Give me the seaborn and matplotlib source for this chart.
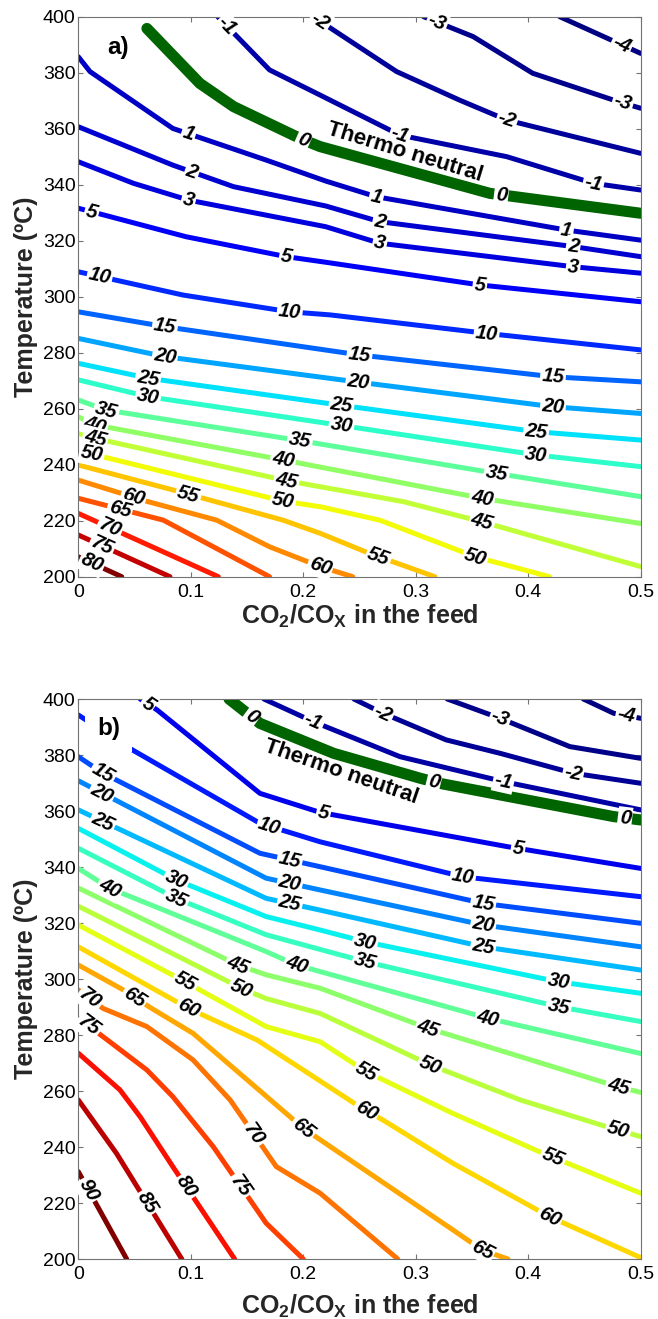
import numpy as np
import pandas as pd
import matplotlib
matplotlib.use("Agg")
import matplotlib.pyplot as plt
import seaborn as sns

# ---------------- data ----------------
X_TICKS = [0, 0.1, 0.2, 0.3, 0.4, 0.5]
X_TICK_LABELS = ["0", "0.1", "0.2", "0.3", "0.4", "0.5"]
Y_TICKS = [200, 220, 240, 260, 280, 300, 320, 340, 360, 380, 400]

# panel a) contour lines: level -> CO2/COx values and temperatures
A_X = {
    -4: [0.428, 0.5],
    -3: [0.307, 0.351, 0.404, 0.476, 0.5],
    -2: [0.209, 0.227, 0.283, 0.339, 0.381, 0.5],
    -1: [0.124, 0.17, 0.215, 0.286, 0.381, 0.458, 0.5],
    0: [0.061, 0.108, 0.138, 0.2, 0.215, 0.366, 0.5],
    1: [0.0, 0.0104, 0.084, 0.167, 0.22, 0.265, 0.434, 0.5],
    2: [0.0, 0.084, 0.138, 0.22, 0.268, 0.44, 0.5],
    3: [0.0, 0.049, 0.098, 0.22, 0.268, 0.44, 0.5],
    5: [0.0, 0.096, 0.185, 0.22, 0.357, 0.5],
    10: [0.0, 0.093, 0.188, 0.224, 0.363, 0.5],
    15: [0.0, 0.077, 0.25, 0.422, 0.5],
    20: [0.0, 0.077, 0.249, 0.422, 0.5],
    25: [0.0, 0.062, 0.234, 0.407, 0.5],
    30: [0.0, 0.062, 0.234, 0.407, 0.5],
    35: [0.0, 0.025, 0.197, 0.372, 0.5],
    40: [0.0, 0.015, 0.182, 0.359, 0.5],
    45: [0.0, 0.015, 0.185, 0.289, 0.359, 0.5],
    50: [0.0, 0.012, 0.182, 0.215, 0.268, 0.353, 0.419],
    55: [0.0, 0.084, 0.182, 0.215, 0.259, 0.317],
    60: [0.0, 0.062, 0.123, 0.17, 0.215, 0.244],
    65: [0.0, 0.0756, 0.17],
    70: [0.0, 0.1245],
    75: [0.0, 0.0815],
    80: [0.0, 0.0386],
}
A_T = {
    -4: [400, 386.9],
    -3: [400, 392.9, 379.8, 370.2, 367.3],
    -2: [400, 395.2, 380.4, 370.2, 363.1, 351.2],
    -1: [400, 381, 372, 357.7, 350, 340.5, 338.1],
    0: [395.8, 376.2, 367.9, 356, 353.6, 336.9, 329.8],
    1: [385.7, 380.4, 360.1, 348.8, 341.3, 335.7, 323.8, 320.2],
    2: [360.7, 347, 339.3, 332.4, 326.8, 317.9, 314.3],
    3: [348.2, 340.5, 334.5, 325, 319.1, 310.7, 308.4],
    5: [331.6, 321.4, 314.3, 312.3, 304.2, 298.2],
    10: [308.9, 300.6, 294.6, 293.5, 286.9, 281],
    15: [294.6, 289.3, 279.2, 271.4, 269.6],
    20: [285.1, 278.6, 269.5, 260.7, 258.3],
    25: [276.2, 270.9, 261.2, 251.8, 248.8],
    30: [270.3, 264.3, 254, 243.5, 239.3],
    35: [263.1, 259.5, 248.6, 236.9, 228.6],
    40: [257.1, 254.2, 241.7, 228, 219],
    45: [251.2, 249.4, 234.3, 226.8, 219.6, 203.6],
    50: [244.5, 243.8, 227, 225, 220.2, 207.1, 200],
    55: [239.9, 231, 220.2, 215.5, 208.3, 200],
    60: [234.5, 226.8, 220.2, 210.7, 203.6, 200],
    65: [228, 220.2, 200],
    70: [222.6, 200],
    75: [214.9, 200],
    80: [207.1, 200],
}

# panel b) contour lines
B_X = {
    -4: [0.449, 0.476, 0.5],
    -3: [0.328, 0.375, 0.437, 0.5],
    -2: [0.245, 0.271, 0.327, 0.375, 0.44, 0.5],
    -1: [0.165, 0.209, 0.286, 0.378, 0.5],
    0: [0.134, 0.1615, 0.227, 0.304, 0.321, 0.476, 0.5],
    5: [0.055, 0.07, 0.1615, 0.215, 0.381, 0.5],
    10: [0.0, 0.043, 0.1615, 0.215, 0.342, 0.5],
    15: [0.0, 0.022, 0.1615, 0.215, 0.36, 0.5],
    20: [0.0, 0.167, 0.215, 0.36, 0.5],
    25: [0.0, 0.167, 0.215, 0.36, 0.5],
    30: [0.0, 0.087, 0.167, 0.215, 0.255, 0.427, 0.5],
    35: [0.0, 0.087, 0.167, 0.255, 0.427, 0.5],
    40: [0.0, 0.028, 0.167, 0.194, 0.364, 0.5],
    45: [0.0, 0.142, 0.167, 0.215, 0.311, 0.48, 0.5],
    50: [0.0, 0.145, 0.167, 0.215, 0.313, 0.393, 0.47, 0.5],
    55: [0.0, 0.095, 0.167, 0.215, 0.256, 0.333, 0.41, 0.5],
    60: [0.0, 0.098, 0.159, 0.2, 0.25, 0.271, 0.333, 0.419, 0.5],
    65: [0.0, 0.04, 0.064, 0.102, 0.164, 0.2, 0.333, 0.359, 0.382],
    70: [0.0, 0.022, 0.061, 0.102, 0.135, 0.176, 0.215, 0.284],
    75: [0.0, 0.022, 0.061, 0.084, 0.12, 0.167, 0.2],
    80: [0.0, 0.037, 0.055, 0.084, 0.139],
    85: [0.0, 0.034, 0.092],
    90: [0.0, 0.043],
}
B_T = {
    -4: [400, 394.9, 393.1],
    -3: [400, 393.1, 383, 378.8],
    -2: [400, 394.9, 385.4, 380.6, 373.5, 369.9],
    -1: [400, 391.9, 379.4, 370.5, 360.4],
    0: [400, 391.3, 380.6, 371.7, 369.9, 358, 356.8],
    5: [400, 396.1, 366.3, 359.5, 347.3, 339.5],
    10: [394.3, 383, 355.6, 349, 336.5, 329.4],
    15: [379.4, 373.5, 344.9, 340.1, 327, 319.9],
    20: [370.8, 336, 331.8, 319.3, 311.5],
    25: [360.4, 328.8, 324.6, 311.5, 303.2],
    30: [353.8, 335.4, 322.3, 317.5, 313.3, 299, 294.9],
    35: [346.7, 328.8, 315.8, 306.2, 290.1, 284.8],
    40: [339.5, 332.4, 309.8, 305, 286, 273.4],
    45: [332.5, 305, 301.5, 296.7, 282.4, 261.5, 259.5],
    50: [326, 296.7, 293, 287.7, 269.3, 256.8, 247.2, 243.7],
    55: [319.3, 299, 283, 277.6, 266.9, 252, 238.3, 223.5],
    60: [311.5, 289.5, 278.2, 267.5, 254.4, 249.6, 234.2, 215.1, 200.5],
    65: [305, 296.1, 289.8, 280.6, 259.2, 246.7, 210.4, 203.2, 200],
    70: [296.1, 289.5, 283, 271.1, 256.8, 233, 223.5, 200],
    75: [286, 279.4, 267.5, 258, 240.1, 212.8, 200],
    80: [273.5, 260.4, 250.8, 233, 200],
    85: [256.8, 237.7, 200],
    90: [231.2, 200],
}

# ---------------- label placement (layout, not data) ----------------
A_LAB = {
    -4: [0.483], -3: [0.319, 0.484], -2: [0.215, 0.381], -1: [0.132, 0.286, 0.458],
    0: [0.2, 0.376], 1: [0.098, 0.265, 0.434], 2: [0.101, 0.268, 0.44],
    3: [0.098, 0.268, 0.44], 5: [0.012, 0.185, 0.357], 10: [0.019, 0.188, 0.363],
    15: [0.077, 0.25, 0.422], 20: [0.077, 0.249, 0.422], 25: [0.062, 0.234, 0.407],
    30: [0.062, 0.234, 0.407], 35: [0.025, 0.197, 0.372], 40: [0.015, 0.182, 0.359],
    45: [0.015, 0.185, 0.359], 50: [0.012, 0.182, 0.353], 55: [0.098, 0.267],
    60: [0.049, 0.215], 65: [0.037], 70: [0.028], 75: [0.021], 80: [0.012],
}
B_LAB = {
    -4: [0.487], -3: [0.375], -2: [0.271, 0.44], -1: [0.209, 0.378],
    0: [0.154, 0.316, 0.486], 5: [0.062, 0.218, 0.391], 10: [0.17, 0.342],
    15: [0.022, 0.188, 0.36], 20: [0.021, 0.188, 0.36], 25: [0.022, 0.188, 0.36],
    30: [0.087, 0.255, 0.427], 35: [0.087, 0.255, 0.427], 40: [0.028, 0.194, 0.364],
    45: [0.142, 0.311, 0.48], 50: [0.145, 0.313, 0.48], 55: [0.095, 0.256, 0.422],
    60: [0.098, 0.256, 0.419], 65: [0.05, 0.2, 0.359], 70: [0.0104, 0.156],
    75: [0.009, 0.144], 80: [0.096], 85: [0.061], 90: [0.009],
}

# ---------------- style ----------------
sns.set_theme(style="white")
plt.rcParams["font.family"] = ["Liberation Sans", "DejaVu Sans"]
plt.rcParams["mathtext.fontset"] = "custom"
plt.rcParams["mathtext.rm"] = "Liberation Sans:bold"
plt.rcParams["mathtext.it"] = "Liberation Sans:bold"
plt.rcParams["mathtext.bf"] = "Liberation Sans:bold"

W, H = 658, 1319
fig = plt.figure(figsize=(W / 100, H / 100), dpi=100)
fig.patch.set_facecolor("white")
ax_w = 562.4 / W
ax_h = 560 / H
axa = fig.add_axes([78.3 / W, 1 - 576.7 / H, ax_w, ax_h])
axb = fig.add_axes([78.3 / W, 1 - 1259 / H, ax_w, ax_h])

GREEN = "#006400"
cmap = plt.get_cmap("jet")
LINE_LW = 3.6
ZERO_LW = 8.0
LAB_FS = 14.5


def draw_panel(ax, X, T, LAB, vmin, vmax, tag, tag_pos, thermo_pos, thermo_rot, xlab_y):
    ax.set_xlim(0, 0.5)
    ax.set_ylim(200, 400)
    rows = [(lvl, x, t) for lvl in X for x, t in zip(X[lvl], T[lvl])]
    df = pd.DataFrame(rows, columns=["level", "x", "T"])
    normal = df[df["level"] != 0]
    pal = {lvl: cmap((lvl - vmin) / (vmax - vmin)) for lvl in normal["level"].unique()}
    sns.lineplot(data=normal, x="x", y="T", hue="level", palette=pal, sort=False,
                 estimator=None, lw=LINE_LW, legend=False, ax=ax)
    sns.lineplot(data=df[df["level"] == 0], x="x", y="T", color=GREEN, sort=False,
                 estimator=None, lw=ZERO_LW, legend=False, ax=ax)

    # inline contour labels
    for lvl, xs_lab in LAB.items():
        xs = np.asarray(X[lvl], float)
        ts = np.asarray(T[lvl], float)
        for xl in xs_lab:
            yl = np.interp(xl, xs, ts)
            x1 = max(xl - 0.01, xs[0])
            x2 = min(xl + 0.01, xs[-1])
            p1 = ax.transData.transform((x1, np.interp(x1, xs, ts)))
            p2 = ax.transData.transform((x2, np.interp(x2, xs, ts)))
            ang = np.degrees(np.arctan2(p2[1] - p1[1], p2[0] - p1[0]))
            ax.text(xl, yl, str(lvl), rotation=ang, rotation_mode="anchor",
                    ha="center", va="center", fontsize=LAB_FS, fontweight="bold",
                    fontstyle="italic", color="black", zorder=6, clip_on=False,
                    bbox=dict(boxstyle="square,pad=0.08", fc="white", ec="none"))

    ax.text(thermo_pos[0], thermo_pos[1], "Thermo neutral", rotation=thermo_rot,
            rotation_mode="anchor", ha="center", va="center", fontsize=16,
            fontweight="bold", color="black", zorder=7)
    ax.text(tag_pos[0], tag_pos[1], tag, ha="center", va="center", fontsize=17.5,
            fontweight="bold", color="black", zorder=8,
            bbox=dict(boxstyle="square,pad=0.5", fc="white", ec="none"))

    ax.set_xticks(X_TICKS)
    ax.set_xticklabels(X_TICK_LABELS)
    ax.set_yticks(Y_TICKS)
    ax.tick_params(axis="both", which="both", direction="in", length=3.6, width=0.8,
                   color="0.45", labelsize=14, labelcolor="black",
                   top=True, right=True, bottom=True, left=True)
    ax.tick_params(axis="x", pad=5)
    ax.tick_params(axis="y", pad=2)
    for sp in ax.spines.values():
        sp.set_visible(True)
        sp.set_color("0.45")
        sp.set_linewidth(0.8)
        sp.set_zorder(5)
    ax.grid(False)
    ax.set_xlabel(r"CO$_\mathregular{2}$/CO$_\mathregular{X}$ in the feed",
                  fontsize=18, fontweight="bold")
    ax.set_ylabel("Temperature (ºC)", fontsize=18, fontweight="bold")
    ax.xaxis.set_label_coords(0.5, xlab_y)
    ax.yaxis.set_label_coords(-0.072, 0.5)


draw_panel(axa, A_X, A_T, A_LAB, -4, 80, "a)", (0.035, 389), (0.29, 351.6), -17, -0.047)
draw_panel(axb, B_X, B_T, B_LAB, -4, 90, "b)", (0.027, 389.6), (0.234, 374), -19, -0.061)

fig.savefig("out.png", dpi=100, facecolor="white")
